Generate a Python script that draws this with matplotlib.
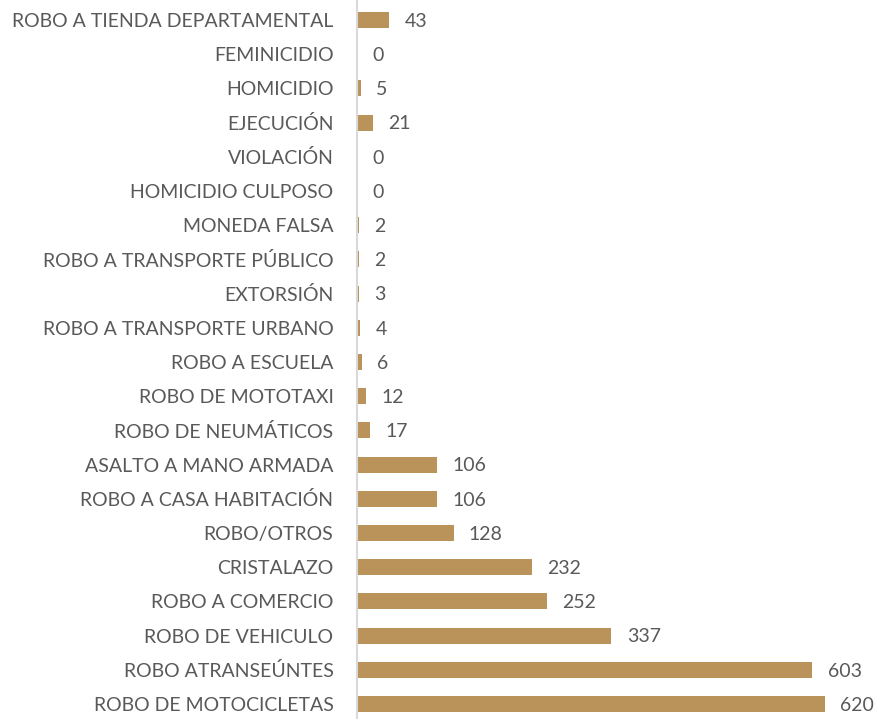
import matplotlib.pyplot as plt

# categories from top to bottom
delitos = ['ROBO A TIENDA DEPARTAMENTAL', 'FEMINICIDIO', 'HOMICIDIO', 'EJECUCIÓN',
           'VIOLACIÓN', 'HOMICIDIO CULPOSO', 'MONEDA FALSA', 'ROBO A TRANSPORTE PÚBLICO',
           'EXTORSIÓN', 'ROBO A TRANSPORTE URBANO', 'ROBO A ESCUELA', 'ROBO DE MOTOTAXI',
           'ROBO DE NEUMÁTICOS', 'ASALTO A MANO ARMADA', 'ROBO A CASA HABITACIÓN',
           'ROBO/OTROS', 'CRISTALAZO', 'ROBO A COMERCIO', 'ROBO DE VEHICULO',
           'ROBO ATRANSEÚNTES', 'ROBO DE MOTOCICLETAS']
casos = [43, 0, 5, 21, 0, 0, 2, 2, 3, 4, 6, 12, 17, 106, 106, 128, 232, 252, 337, 603, 620]

BAR = '#B9935A'
TXT = '#595959'

plt.rcParams['font.family'] = ['Lato', 'DejaVu Sans']

fig = plt.figure(figsize=(8.75, 7.19), dpi=100)
ax = fig.add_axes([0.408, 0.0, 0.592, 1.0])

n = len(delitos)
pos = [n - 1 - i for i in range(n)]
ax.barh(pos, casos, height=0.47, color=BAR)

# value labels next to each bar
for p, v in zip(pos, casos):
    ax.annotate(str(v), (v, p), xytext=(11, -1), textcoords='offset points',
                va='center', ha='left', fontsize=14, color=TXT)

ax.set_yticks(pos)
ax.set_yticklabels(delitos, fontsize=14, color=TXT)
ax.tick_params(axis='y', length=0, pad=17)
ax.set_xticks([])
ax.set_xlim(0, 686)
ax.set_ylim(-0.44, n - 1 + 0.585)

for s in ['top', 'right', 'bottom']:
    ax.spines[s].set_visible(False)
ax.spines['left'].set_color('#D9D9D9')
ax.spines['left'].set_linewidth(1.5)

fig.savefig('out.png', dpi=100)
